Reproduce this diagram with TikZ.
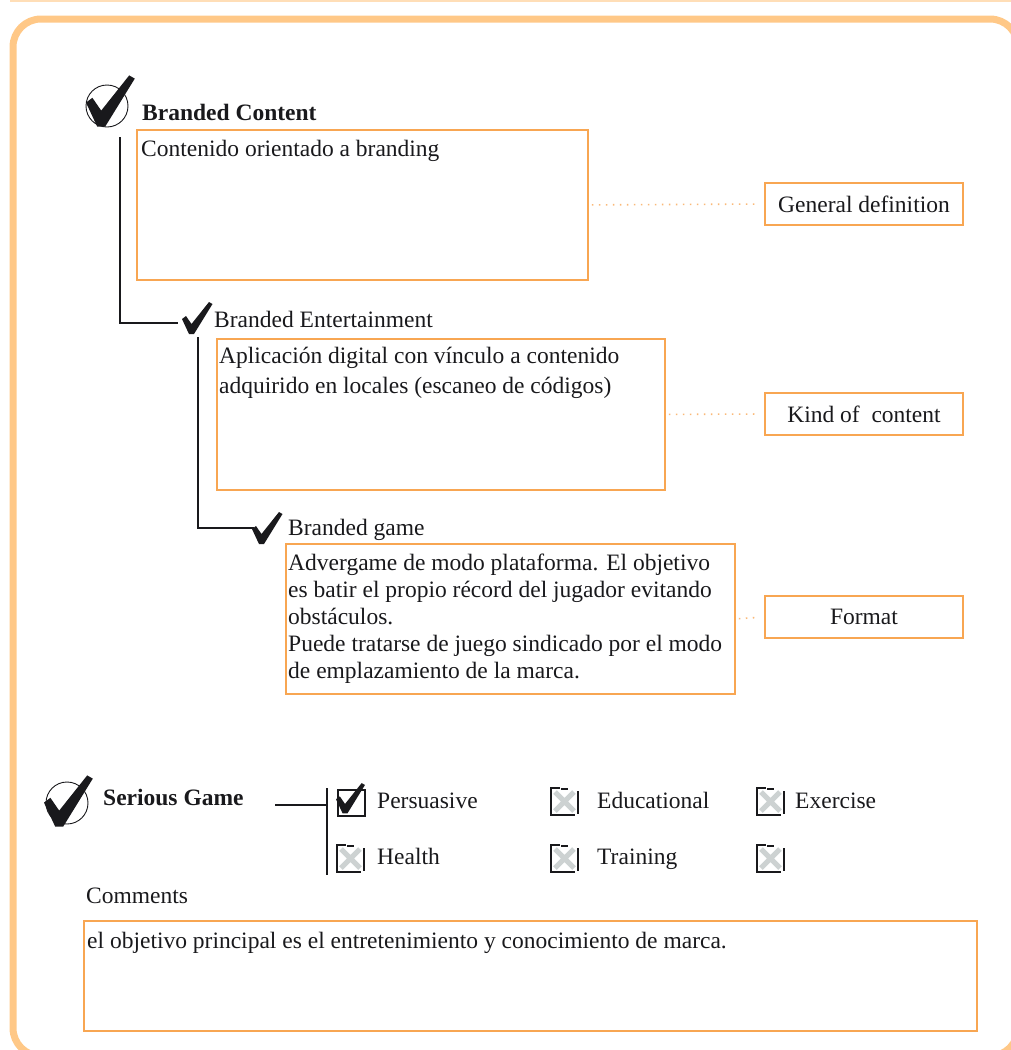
\documentclass[tikz,border=0pt]{standalone}
\usepackage{fontspec}
\setmainfont{Liberation Serif}
\usetikzlibrary{positioning}

\definecolor{frameorange}{RGB}{255,200,135}
\definecolor{boxorange}{RGB}{248,166,82}
\definecolor{dotorange}{RGB}{250,185,120}
\definecolor{inkgray}{RGB}{25,25,28}
\definecolor{crossgray}{RGB}{205,210,210}

\tikzset{
  % bold hand-drawn tick, about 30 x 31
  tickmark/.pic={
    \fill[inkgray] (0,16) -- (4,13) -- (9.5,21) -- (27,-1) -- (30.5,1)
      -- (12,31) -- (7,31) -- cycle;
  },
  % empty checkbox with a grey cross
  offbox/.pic={
    \draw[crossgray, line width=5pt] (4,4) -- (23,23) (23,4) -- (4,23);
    \draw[inkgray, line width=1.6pt] (9,0) -- (0,0) -- (0,27) -- (24,27);
    \draw[inkgray, line width=1.6pt] (27,3) -- (27,26);
    \draw[inkgray, line width=1.2pt] (10,1) -- (17,1);
  }
}

\begin{document}
\begin{tikzpicture}[x=1pt, y=-1pt,
    txt/.style={inner sep=0pt, anchor=base west, text=inkgray, font=\fontsize{23.5}{28}\selectfont},
    title/.style={txt, font=\fontsize{23.5}{28}\selectfont\bfseries},
    defbox/.style={draw=boxorange, line width=1.8pt, anchor=north west, inner sep=0pt},
    boxtext/.style={inner sep=0pt, anchor=north west, align=left, text=inkgray},
    tagbox/.style={draw=boxorange, line width=1.8pt, minimum width=198pt, minimum height=42pt,
      inner sep=0pt, text=inkgray, font=\fontsize{23.5}{28}\selectfont},
    dotline/.style={dotorange, line width=1.6pt, dash pattern=on 1.6pt off 5.4pt,
      shorten <=3pt, shorten >=8pt},
    treeline/.style={inkgray, line width=1.8pt}
]
    \useasboundingbox (0,0) rectangle (1011,1050);
    \clip (0,0) rectangle (1011,1050);

    % 1. Page frame
    \draw[frameorange!60, line width=1.5pt] (10,1) -- (1011,1);
    \draw[frameorange, line width=7pt, rounded corners=28pt] (13,19) rectangle (1018,1056);

    % 2. Branded content
    \draw[inkgray, line width=0.9pt] (107,106) circle (21);
    \pic[scale=1.6] at (86,77) {tickmark};
    \node[title] (bctitle) at (142,120) {Branded Content};
    \node[defbox, minimum width=451pt, minimum height=150pt] (bcbox) at (136,129) {};
    \node[boxtext, font=\fontsize{23.5}{28}\selectfont] (bctext) at (141,140) {Contenido orientado a branding};
    \node[tagbox] (gendef) at (864,204) {General definition};
    \draw[dotline] (bcbox.east) -- (gendef.west);

    % 3. Branded entertainment
    \coordinate (bcfork) at (120,137);
    \coordinate (beend) at (178,323);
    \draw[treeline] (bcfork) |- (beend);
    \pic at (182,303) {tickmark};
    \node[txt] (betitle) at (214,327) {Branded Entertainment};
    \node[defbox, minimum width=448pt, minimum height=151pt] (bebox) at (216,338) {};
    \node[boxtext, font=\fontsize{23.5}{30}\selectfont] (betext) at (219,347)
      {Aplicación digital con vínculo a contenido\\adquirido en locales (escaneo de códigos)};
    \node[tagbox] (kind) at (864,414) {Kind of~ content};
    \draw[dotline] (bebox.east) -- (kind.west);

    % 4. Branded game
    \coordinate (befork) at (198,337);
    \coordinate (bgend) at (254,528);
    \draw[treeline] (befork) |- (bgend);
    \pic at (252,513) {tickmark};
    \node[txt] (bgtitle) at (288,535) {Branded game};
    \node[defbox, minimum width=449pt, minimum height=150pt] (bgbox) at (285,543) {};
    \node[boxtext, font=\fontsize{23.5}{27}\selectfont] (bgtext) at (288,554)
      {Advergame de modo plataforma. El objetivo\\es batir el propio récord del jugador evitando\\obstáculos.\\Puede tratarse de juego sindicado por el modo\\de emplazamiento de la marca.};
    \node[tagbox] (format) at (864,617) {Format};
    \draw[dotline] (bgbox.east) -- (format.west);

    % 5. Serious game and its types
    \draw[inkgray, line width=0.9pt] (67,803) circle (21);
    \pic[scale=1.6] at (44,777) {tickmark};
    \node[title] (sgtitle) at (103,805) {Serious Game};
    \coordinate (sgstart) at (275,805);
    \coordinate (sgjoin) at (327,805);
    \coordinate (sgtop) at (327,788);
    \coordinate (sgbot) at (327,875);
    \draw[treeline] (sgstart) -- (sgjoin);
    \draw[treeline] (sgtop) -- (sgbot);

    \node[draw=inkgray, line width=1.6pt, minimum width=27pt, minimum height=26pt,
      inner sep=0pt, anchor=north west] (persbox) at (337,789) {};
    \pic[scale=0.95] at (336,784) {tickmark};
    \node[txt] (persuasive) at (377,808) {Persuasive};
    \pic at (551,788) {offbox};
    \node[txt] (educational) at (597,808) {Educational};
    \pic at (757,788) {offbox};
    \node[txt] (exercise) at (795,808) {Exercise};
    \pic at (337,845) {offbox};
    \node[txt] (health) at (377,864) {Health};
    \pic at (551,845) {offbox};
    \node[txt] (training) at (597,864) {Training};
    \pic at (757,845) {offbox};

    % 6. Comments
    \node[txt] (comments) at (86,903) {Comments};
    \node[defbox, minimum width=893pt, minimum height=110pt] (combox) at (83,920) {};
    \node[boxtext, font=\fontsize{23.5}{28}\selectfont] (comtext) at (87,932)
      {el objetivo principal es el entretenimiento y conocimiento de marca.};
\end{tikzpicture}
\end{document}
